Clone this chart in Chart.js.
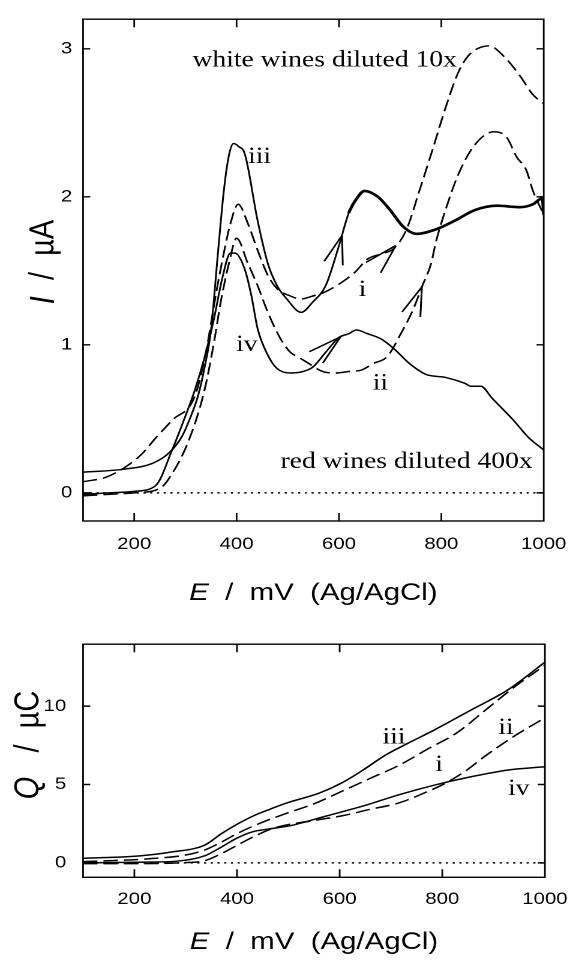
<!DOCTYPE html>
<html><head><meta charset="utf-8">
<script src="https://cdn.jsdelivr.net/npm/chart.js@4/dist/chart.umd.min.js"></script>
<style>
html,body{margin:0;padding:0;background:#fff;width:582px;height:963px;overflow:hidden}
canvas{position:absolute;left:0}
</style></head><body>
<canvas id="c1" width="485" height="620" style="top:0;width:582px;height:620px"></canvas>
<canvas id="c2" width="485" height="343" style="top:620px;width:582px;height:343px"></canvas>
<script>
// ---------- Top panel: current I (µA) vs potential E (mV) ----------
const E_top_iii = [100,180,236,268,293,312,325,337,350,363,375,385,394,404,416,441,461,479,498,526,549,574,600,619,635,650,676,700,725,751,789,827,865,909,953,979,997,1000];
const I_top_iii = [0.14,0.16,0.20,0.27,0.38,0.53,0.66,0.84,1.10,1.60,2.04,2.28,2.36,2.34,2.29,1.84,1.55,1.40,1.31,1.22,1.29,1.40,1.67,1.89,1.99,2.04,2.00,1.91,1.80,1.75,1.78,1.84,1.91,1.94,1.93,1.95,1.99,1.88];
const E_top_i = [100,148,211,243,274,318,340,360,375,388,403,422,441,461,479,505,526,549,568,600,631,656,688,707,732,757,782,808,833,852,870,893,922,953,979,1000];
const I_top_i = [0.075,0.11,0.25,0.375,0.49,0.65,0.95,1.35,1.62,1.82,1.95,1.82,1.64,1.47,1.38,1.33,1.31,1.33,1.35,1.41,1.49,1.58,1.62,1.65,1.78,2.04,2.31,2.60,2.84,2.95,3.00,3.02,2.95,2.82,2.69,2.63];
const E_top_ii = [100,150,200,250,274,306,337,356,369,385,400,422,441,461,486,505,524,543,568,593,619,644,668,694,720,745,763,780,789,808,833,865,903,928,947,966,979,1000];
const I_top_ii = [-0.02,-0.01,0.0,0.03,0.13,0.35,0.69,1.02,1.29,1.55,1.72,1.55,1.40,1.22,1.04,0.95,0.91,0.87,0.82,0.81,0.82,0.83,0.875,0.92,1.07,1.24,1.40,1.55,1.69,1.91,2.15,2.35,2.44,2.40,2.27,2.18,2.04,1.88];
const E_top_iv = [100,150,200,242,274,299,318,337,356,372,388,397,416,429,441,461,479,505,530,549,574,600,619,634,656,682,707,739,770,808,846,858,877,899,941,970,1000];
const I_top_iv = [-0.01,0.0,0.01,0.05,0.29,0.51,0.69,0.91,1.18,1.45,1.62,1.62,1.51,1.33,1.11,0.93,0.84,0.81,0.82,0.85,0.95,1.05,1.075,1.10,1.075,1.04,0.975,0.87,0.80,0.78,0.74,0.72,0.72,0.64,0.49,0.375,0.29];

// ---------- Bottom panel: charge Q (µC) vs potential E (mV) ----------
const E_bot_iii = [100,211,274,337,369,401,432,464,495,561,604,646,688,730,787,857,927,1000];
const Q_bot_iii = [0.29,0.45,0.70,1.13,1.85,2.48,3.00,3.42,3.80,4.46,5.10,5.93,6.85,7.58,8.52,9.77,11.02,12.8];
const E_bot_i = [100,223,300,336,364,399,434,491,547,604,660,716,772,829,885,941,1000];
const Q_bot_i = [0.08,0.25,0.50,0.81,1.23,1.85,2.38,3.10,3.73,4.56,5.40,6.23,7.27,8.31,9.77,11.23,12.6];
const E_bot_ii = [100,200,300,336,364,399,434,477,547,604,660,716,772,800,843,885,941,1000];
const Q_bot_ii = [-0.05,-0.05,0.02,0.13,0.50,1.10,1.70,2.27,2.69,3.00,3.42,3.83,4.56,4.98,5.81,6.85,8.10,9.25];
const E_bot_iv = [100,223,280,337,369,401,432,464,505,575,646,716,787,857,927,1000];
const Q_bot_iv = [0.0,0.05,0.10,0.45,1.00,1.60,2.00,2.17,2.38,3.00,3.63,4.35,4.98,5.50,5.92,6.13];

// ---------- axes ----------
const xTickValues = [200,400,600,800,1000];
const yTickValuesTop = [0,1,2,3];
const yTickValuesBot = [0,5,10];
const zeroLineE = [100,1000];
const zeroLineV = [0,0];

const SANS = '"Liberation Sans", Arial, Helvetica, sans-serif';
const SERIF = '"Liberation Serif", "Times New Roman", Times, serif';

function pts(xs, ys){ return xs.map((x,i)=>({x:x, y:ys[i]})); }
function line(xs, ys, extra){
  return Object.assign({data: pts(xs, ys), showLine:true, pointRadius:0, borderColor:'#000',
    backgroundColor:'#000', borderWidth:1.5, fill:false, cubicInterpolationMode:'monotone'}, extra||{});
}
function interp(data, E){
  for (let i=0;i<data.length-1;i++){
    if (E>=data[i].x && E<=data[i+1].x){
      const t=(E-data[i].x)/(data[i+1].x-data[i].x);
      return data[i].y + t*(data[i+1].y-data[i].y);
    }
  }
  return data[data.length-1].y;
}
function drawMixed(ctx, parts, size, cx, cy, rot){
  ctx.save();
  ctx.translate(cx, cy);
  if (rot) ctx.rotate(rot);
  let w=0;
  parts.forEach(p=>{ ctx.font=(p.it?'italic ':'')+size+'px '+SANS; p.w=ctx.measureText(p.t).width; w+=p.w; });
  let x=-w/2;
  ctx.textBaseline='middle'; ctx.textAlign='left'; ctx.fillStyle='#000';
  parts.forEach(p=>{ ctx.font=(p.it?'italic ':'')+size+'px '+SANS; ctx.fillText(p.t, x, 0); x+=p.w; });
  ctx.restore();
}

const decor = {
  id:'decor',
  afterDatasetsDraw(chart, args, o){
    const {ctx, chartArea:a, scales:{x, y}} = chart;
    ctx.save();
    ctx.strokeStyle='#000'; ctx.lineWidth=1.4;
    ctx.strokeRect(a.left, a.top, a.right-a.left, a.bottom-a.top);
    ctx.beginPath();
    x.ticks.forEach(t=>{ const p=x.getPixelForValue(t.value);
      if (p>a.left+1 && p<a.right-1){ ctx.moveTo(p,a.bottom); ctx.lineTo(p,a.bottom-o.xLen); ctx.moveTo(p,a.top); ctx.lineTo(p,a.top+o.xLen); } });
    y.ticks.forEach(t=>{ const p=y.getPixelForValue(t.value);
      ctx.moveTo(a.left,p); ctx.lineTo(a.left+o.yLen,p); ctx.moveTo(a.right,p); ctx.lineTo(a.right-o.yLen,p); });
    ctx.stroke();
    // sweep-direction arrows
    ctx.lineWidth=1.5;
    (o.arrows||[]).forEach(ar=>{
      const d=chart.data.datasets[ar.ds].data;
      const tx=x.getPixelForValue(ar.x), ty=y.getPixelForValue(interp(d, ar.x));
      const ax=x.getPixelForValue(ar.x-8), ay=y.getPixelForValue(interp(d, ar.x-8));
      const ang=Math.atan2(ty-ay, tx-ax);
      ctx.beginPath();
      [-1,1].forEach(s=>{ const b=ang+Math.PI+s*o.spread;
        ctx.moveTo(tx,ty); ctx.lineTo(tx+o.aLen*Math.cos(b), ty+o.aLen*Math.sin(b)); });
      ctx.stroke();
    });
    // annotations
    ctx.fillStyle='#000'; ctx.textAlign='center'; ctx.textBaseline='middle';
    (o.labels||[]).forEach(l=>{
      ctx.font=o.labelSize+'px '+SERIF;
      ctx.fillText(l.t, x.getPixelForValue(l.x), y.getPixelForValue(l.y));
    });
    ctx.restore();
    // axis titles
    drawMixed(ctx, o.xTitle, o.titleSize, (a.left+a.right)/2, o.xTitleY, 0);
    drawMixed(ctx, o.yTitle, o.yTitleSize, o.yTitleX, o.yTitleY, -Math.PI/2);
  }
};

function makeOptions(cfg){
  return {
    responsive:false, animation:false, devicePixelRatio:2,
    layout:{padding:{top:cfg.top, right:cfg.right, left:0, bottom:0}},
    plugins:{legend:{display:false}, tooltip:{enabled:false}, decor:cfg.decor},
    scales:{
      x:{type:'linear', min:100, max:1000,
        afterBuildTicks:s=>{ s.ticks=xTickValues.map(v=>({value:v})); },
        afterFit:s=>{ s.height=cfg.xH; },
        grid:{display:false, drawTicks:false}, border:{display:false},
        ticks:{color:'#000', font:{family:SANS, size:17}, padding:cfg.xPad, maxRotation:0, autoSkip:false, callback:v=>String(v)}},
      y:{type:'linear', min:cfg.ymin, max:cfg.ymax,
        afterBuildTicks:s=>{ s.ticks=cfg.yTicks.map(v=>({value:v})); },
        afterFit:s=>{ s.width=cfg.left; },
        grid:{display:false, drawTicks:false}, border:{display:false},
        ticks:{color:'#000', font:{family:SANS, size:17}, padding:cfg.yPad, callback:v=>String(v)}}
    }
  };
}

const dash = [12,5];
const dots = [1.8,3.8];

new Chart(document.getElementById('c1'), {
  type:'scatter',
  data:{datasets:[
    line(E_top_iii, I_top_iii, {segment:{borderWidth:c=>c.p0.parsed.x>=612?2.6:1.5}}),
    line(E_top_i, I_top_i, {borderDash:dash}),
    line(E_top_ii, I_top_ii, {borderDash:dash}),
    line(E_top_iv, I_top_iv),
    line(zeroLineE, zeroLineV, {borderDash:dots, borderWidth:1.5, cubicInterpolationMode:'default'})
  ]},
  options:makeOptions({top:13, right:20, left:69.2, xH:99, xPad:13, yPad:9, ymin:-0.19, ymax:3.2, yTicks:yTickValuesTop,
    decor:{xLen:8, yLen:6, aLen:30, spread:0.27, labelSize:23, titleSize:24.5, yTitleSize:29,
      xTitle:[{t:'E',it:true},{t:'  /  mV  (Ag/AgCl)'}], xTitleY:593,
      yTitle:[{t:'I',it:true},{t:'  /  µA'}], yTitleX:36.7, yTitleY:262,
      arrows:[{ds:0,x:606},{ds:1,x:711},{ds:2,x:762},{ds:3,x:603}],
      labels:[{t:'iii',x:445,y:2.27},{t:'i',x:646,y:1.37},{t:'iv',x:420,y:1.0},{t:'ii',x:681,y:0.74},
        {t:'white wines diluted 10x',x:572,y:2.92},{t:'red wines diluted 400x',x:732,y:0.21}]}
  }),
  plugins:[decor]
});

new Chart(document.getElementById('c2'), {
  type:'scatter',
  data:{datasets:[
    line(E_bot_iii, Q_bot_iii),
    line(E_bot_i, Q_bot_i, {borderDash:dash}),
    line(E_bot_ii, Q_bot_ii, {borderDash:dash}),
    line(E_bot_iv, Q_bot_iv),
    line(zeroLineE, zeroLineV, {borderDash:dots, borderWidth:1.5, cubicInterpolationMode:'default'})
  ]},
  options:makeOptions({top:20.7, right:20, left:69.2, xH:85.7, xPad:12, yPad:14, ymin:-0.92, ymax:13.95, yTicks:yTickValuesBot,
    decor:{xLen:8, yLen:6, aLen:30, spread:0.27, labelSize:23, titleSize:24.5, yTitleSize:29,
      xTitle:[{t:'E',it:true},{t:'  /  mV  (Ag/AgCl)'}], xTitleY:322,
      yTitle:[{t:'Q',it:true},{t:'   /  µC'}], yTitleX:24, yTitleY:125,
      arrows:[],
      labels:[{t:'iii',x:706,y:8.0},{t:'i',x:794,y:6.25},{t:'ii',x:924,y:8.6},{t:'iv',x:949,y:4.7}]}
  }),
  plugins:[decor]
});
</script>
</body></html>
